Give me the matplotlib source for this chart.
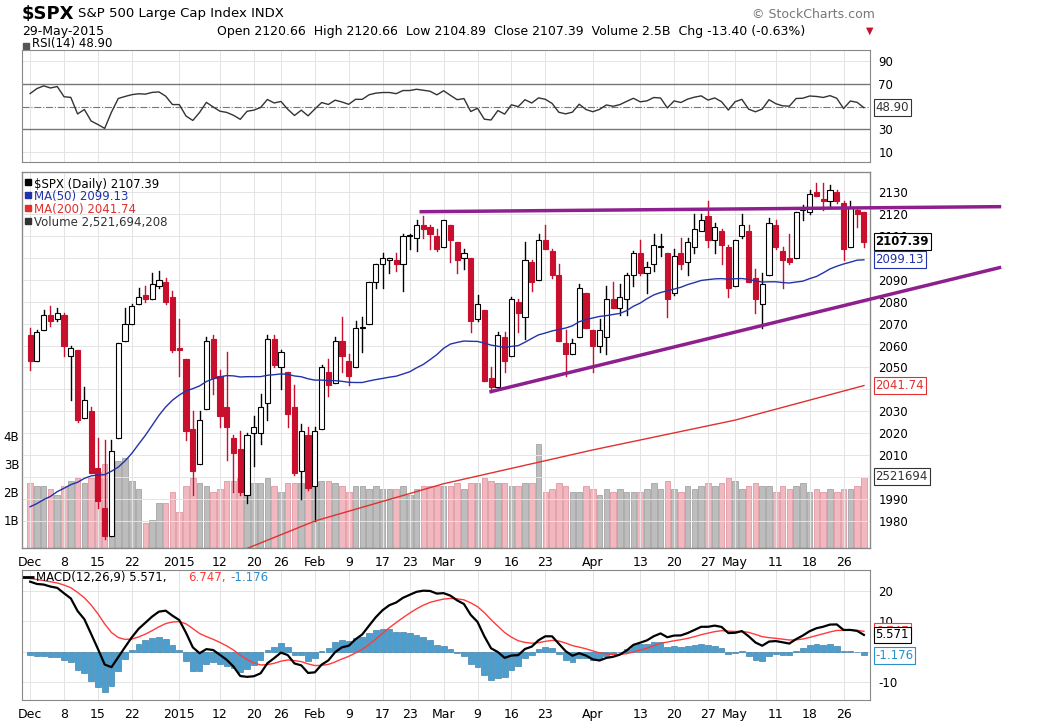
import numpy as np
import pandas as pd
import matplotlib.pyplot as plt
from matplotlib.patches import Rectangle

# ---- data ----
dec_days = [1,2,3,4,5,8,9,10,11,12,15,16,17,18,19,22,23,24,26,29,30,31]
jan_days = [2,5,6,7,8,9,12,13,14,15,16,20,21,22,23,26,27,28,29,30]
feb_days = [2,3,4,5,6,9,10,11,12,13,17,18,19,20,23,24,25,26,27]
mar_days = [2,3,4,5,6,9,10,11,12,13,16,17,18,19,20,23,24,25,26,27,30,31]
apr_days = [1,2,6,7,8,9,10,13,14,15,16,17,20,21,22,23,24,27,28,29,30]
may_days = [1,4,5,6,7,8,11,12,13,14,15,18,19,20,21,22,26,27,28,29]

opens = [2065,2053,2067,2074,2072,2074,2055,2058,2027,2030,2004,1986,1973,2018,2062,2070,2079,2083,2081,2087,2089,2082,
         2059,2054,2022,2006,2031,2063,2046,2032,2018,2013,1992,2020,2020,2034,2063,2050,2048,2032,2003,2019,
         1996,2022,2048,2043,2062,2053,2050,2068,2070,2089,2097,2099,2099,2097,2110,2109,2115,2114,2110,
         2105,2115,2107,2100,2100,2072,2076,2045,2041,2064,2055,2080,2073,2098,2090,2108,2103,2092,2061,2056,2064,2084,
         2067,2060,2064,2081,2077,2081,2092,2102,2093,2097,2105,2102,2084,2102,2098,2105,2112,2119,2108,2112,2105,
         2087,2110,2112,2091,2079,2092,2115,2103,2100,2100,2122,2121,2130,2127,2126,2130,2125,2105,2122,2120.66]
highs = [2068,2067,2076,2078,2077,2075,2060,2058,2041,2032,2018,2017,2017,2061,2077,2079,2086,2087,2093,2094,2091,2085,
         2072,2054,2030,2030,2064,2065,2049,2057,2019,2021,2020,2028,2038,2065,2065,2058,2048,2042,2024,2023,
         2023,2051,2054,2064,2073,2056,2071,2073,2089,2097,2102,2100,2102,2111,2111,2117,2119,2115,2113,
         2117,2115,2107,2104,2100,2083,2076,2050,2066,2066,2082,2081,2107,2099,2111,2115,2104,2097,2067,2063,2088,2084,
         2067,2072,2087,2089,2088,2093,2103,2108,2098,2111,2111,2102,2104,2109,2109,2120,2120,2126,2116,2113,2106,
         2108,2120,2115,2095,2093,2118,2117,2105,2111,2121,2124,2131,2134,2134,2133,2131,2126,2126,2123,2120.66]
lows = [2049,2053,2067,2069,2071,2055,2035,2025,2027,2002,1986,1972,1973,2018,2062,2070,2079,2080,2081,2086,2079,2057,
        2046,2017,1992,2006,2031,2038,2023,2008,1993,1992,1988,2005,2015,2026,2050,2040,2023,2001,1990,1994,
        1980,2022,2037,2043,2048,2042,2050,2057,2070,2086,2086,2093,2094,2085,2104,2103,2109,2104,2103,
        2105,2098,2093,2095,2066,2071,2044,2039,2041,2048,2055,2066,2063,2085,2090,2104,2091,2062,2046,2056,2064,2068,
        2048,2057,2056,2077,2074,2074,2087,2092,2084,2094,2101,2073,2083,2095,2092,2102,2113,2105,2102,2097,2082,
        2087,2109,2089,2075,2068,2092,2104,2086,2097,2100,2117,2120,2128,2122,2123,2125,2099,2105,2114,2104.89]
closes = [2053,2066,2074,2071,2075,2060,2059,2026,2035,2002,1989,1973,2012,2061,2070,2078,2082,2081,2088,2090,2080,2058,
          2058,2021,2003,2026,2062,2045,2028,2023,2011,1993,2019,2023,2032,2063,2051,2057,2029,2002,2021,1995,
          2021,2050,2042,2062,2055,2046,2068,2068,2089,2097,2100,2100,2097,2110,2110,2115,2113,2111,2104,
          2117,2108,2099,2102,2071,2079,2044,2041,2065,2053,2081,2075,2099,2089,2108,2104,2092,2062,2056,2061,2086,2068,
          2060,2067,2081,2077,2082,2092,2102,2093,2096,2106,2105,2081,2101,2097,2107,2113,2117,2108,2114,2106,2086,
          2108,2115,2089,2081,2088,2116,2105,2099,2098,2121,2122,2129,2128,2126,2131,2126,2104,2123,2120,2107.39]
# volume in billions
volumes = [2.3,2.2,2.2,2.1,1.9,2.2,2.4,2.5,2.3,2.5,2.7,3.0,2.9,3.1,3.2,2.4,2.1,0.9,1.0,1.6,1.6,2.0,
           1.3,2.2,2.5,2.3,2.2,2.0,2.1,2.4,2.4,2.5,2.7,2.3,2.3,2.5,2.2,2.0,2.3,2.3,2.3,2.6,
           2.4,2.4,2.4,2.3,2.2,2.0,2.2,2.2,2.1,2.2,2.1,2.1,2.1,2.2,1.9,2.1,2.2,2.2,2.2,
           2.2,2.2,2.3,2.1,2.3,2.3,2.5,2.4,2.3,2.3,2.2,2.2,2.3,2.3,3.7,2.0,2.1,2.3,2.2,2.0,2.0,2.2,
           2.1,1.9,2.1,2.0,2.1,2.0,2.0,2.0,2.1,2.3,2.1,2.4,2.1,2.0,2.2,2.1,2.2,2.3,2.2,2.3,2.5,
           2.4,2.1,2.2,2.3,2.2,2.2,2.0,2.2,2.1,2.2,2.3,2.0,2.1,2.0,2.1,2.0,2.1,2.1,2.2,2.52]
# earlier closes (Sep-Nov 2014) for indicator warm-up
prior_closes = [2002,2000,1997,2008,2007,2001,1988,1997,1985,1987,1985,1984,2002,2001,2011,1994,1983,1998,1966,1983,1977,1972,
                1946,1946,1968,1964,1935,1968,1928,1906,1874,1878,1862,1862,1887,1904,1941,1927,1951,1964,1961,1985,1982,1994,2018,
                2018,2012,2023,2031,2032,2038,2039,2039,2039,2039,2041,2052,2049,2053,2064,2070,2068,2073,2068]
ma200_dates = ['2015-01-02','2015-02-02','2015-03-02','2015-04-01','2015-05-01','2015-05-29']
ma200_vals = [1955,1980,1997,2012.4,2026,2041.74]

tick_dates = ['2014-12-01','2014-12-08','2014-12-15','2014-12-22','2015-01-02','2015-01-12','2015-01-20','2015-01-26',
              '2015-02-02','2015-02-09','2015-02-17','2015-02-23','2015-03-02','2015-03-09','2015-03-16','2015-03-23',
              '2015-04-01','2015-04-13','2015-04-20','2015-04-27','2015-05-01','2015-05-11','2015-05-18','2015-05-26']
tick_labels = ['Dec','8','15','22','2015','12','20','26','Feb','9','17','23','Mar','9','16','23',
               'Apr','13','20','27','May','11','18','26']

# ---- derived ----
dates = ([pd.Timestamp(2014,12,d) for d in dec_days] + [pd.Timestamp(2015,1,d) for d in jan_days] +
         [pd.Timestamp(2015,2,d) for d in feb_days] + [pd.Timestamp(2015,3,d) for d in mar_days] +
         [pd.Timestamp(2015,4,d) for d in apr_days] + [pd.Timestamp(2015,5,d) for d in may_days])
pos = {d: i for i, d in enumerate(dates)}
n = len(dates)
x = np.arange(n)
np_ = len(prior_closes)
allc = pd.Series(prior_closes + closes)
ma50 = allc.rolling(50).mean().values[np_:]
delta = allc.diff()
up = delta.clip(lower=0).ewm(alpha=1/14, adjust=False).mean()
dn = (-delta.clip(upper=0)).ewm(alpha=1/14, adjust=False).mean()
rsi = (100 - 100 / (1 + up / dn)).values[np_:]
macd_s = allc.ewm(span=12, adjust=False).mean() - allc.ewm(span=26, adjust=False).mean()
sig_s = macd_s.ewm(span=9, adjust=False).mean()
macd = macd_s.values[np_:]
sig = sig_s.values[np_:]
hist = macd - sig
ma200_x = [pos[pd.Timestamp(d)] for d in ma200_dates]
tick_x = [pos[pd.Timestamp(d)] for d in tick_dates]

W, H = 1038, 725
fig = plt.figure(figsize=(W/100, H/100), dpi=100)
plt.rcParams['font.family'] = 'DejaVu Sans'

def box(top, bot, left=22, right=870):
    return fig.add_axes([left/W, 1-bot/H, (right-left)/W, (bot-top)/H])

xl = (-1.2, 123.9)
ax_r = box(50, 162)
ax_p = box(172, 548)
ax_m = box(570, 700)

def rbox(ax, y, txt, col, bold=False):
    ax.annotate(txt, xy=(1.0, y), xycoords=('axes fraction', 'data'), xytext=(4, 0),
                textcoords='offset points', va='center', ha='left', fontsize=8.5, color=col,
                fontweight='bold' if bold else 'normal',
                bbox=dict(boxstyle='square,pad=0.15', fc='white', ec=col, lw=0.8), annotation_clip=False)

for ax in (ax_r, ax_p, ax_m):
    ax.set_xlim(*xl)
    ax.tick_params(axis='x', length=0)
    for t in tick_x:
        ax.axvline(t, color='#e4e4e4', lw=0.7, zorder=0)
    for s in ax.spines.values():
        s.set_color('#888888'); s.set_linewidth(0.8)

# volume on price panel
ax_v = ax_p.twinx()
ax_v.set_xlim(*xl)
ax_v.set_ylim(0, 13.4)
vcol = ['#f2b8c0' if c < o else '#bdbdbd' for o, c in zip(opens, closes)]
ecol = ['#d98b96' if c < o else '#999999' for o, c in zip(opens, closes)]
ax_v.bar(x, volumes, width=0.82, color=vcol, edgecolor=ecol, lw=0.5, zorder=1)
ax_v.yaxis.tick_left()
ax_v.set_yticks([1, 2, 3, 4]); ax_v.set_yticklabels(['1B', '2B', '3B', '4B'])
ax_v.tick_params(axis='y', length=0, labelsize=8.5, pad=2)
ax_v.set_xticks([])
ax_p.set_zorder(ax_v.get_zorder() + 1)
ax_p.patch.set_visible(False)

for ax in (ax_r, ax_p, ax_m):
    ax.yaxis.tick_right()
    ax.yaxis.set_label_position('right')
    ax.tick_params(axis='y', length=0, labelsize=8.5, pad=6)

# RSI
ax_r.set_ylim(1.2, 99.7)
ax_r.set_yticks([10, 30, 50, 70, 90]); ax_r.set_yticklabels(['10', '30', '', '70', '90'])
ax_r.set_xticks([])
for v in (10, 90):
    ax_r.axhline(v, color='#e4e4e4', lw=0.7, zorder=0)
ax_r.axhline(70, color='#777777', lw=1)
ax_r.axhline(30, color='#777777', lw=1)
ax_r.axhline(50, color='#777777', lw=0.8, ls='-.')
ax_r.plot(x, rsi, color='#333333', lw=1)
ax_r.text(0.012, 1.0, 'RSI(14) 48.90', transform=ax_r.transAxes, va='bottom', fontsize=8.5)
ax_r.plot([0.005], [1.04], marker='s', ms=4, color='#555555', transform=ax_r.transAxes, clip_on=False)
rbox(ax_r, rsi[-1], '48.90', '#333333')

ax_p.set_ylim(1967.7, 2139.1)
ax_p.set_yticks(np.arange(1980, 2131, 10))
for v in np.arange(1980, 2131, 10):
    ax_p.axhline(v, color='#e4e4e4', lw=0.7, zorder=0)
ax_p.set_xticks(tick_x); ax_p.set_xticklabels(tick_labels, fontsize=9)
ax_p.tick_params(axis='x', pad=6)
for i in range(n):
    o, h, l, c = opens[i], highs[i], lows[i], closes[i]
    down = c < o
    col = '#c8102e' if down else 'black'
    ax_p.plot([i, i], [l, h], color=col, lw=1, zorder=2)
    ax_p.add_patch(Rectangle((i - 0.38, min(o, c)), 0.76, max(abs(c - o), 0.3),
                             fc=col if down else 'white', ec=col, lw=0.8, zorder=3))
ax_p.plot(x, ma50, color='#2233aa', lw=1, zorder=4)
ax_p.plot(ma200_x, ma200_vals, color='#e03030', lw=1, zorder=4)
# trendlines
ax_p.plot([57.7, 143], [2121, 2123.3], color='#8e1f8e', lw=2.5, clip_on=False, zorder=5)
ax_p.plot([68, 143], [2039, 2095.5], color='#8e1f8e', lw=2.5, clip_on=False, zorder=5)

leg = [('$SPX (Daily) 2107.39', 'black'), ('MA(50) 2099.13', '#2233aa'),
       ('MA(200) 2041.74', '#e03030'), ('Volume 2,521,694,208', '#333333')]
for k, (t, c) in enumerate(leg):
    ax_p.text(0.014, 0.985 - k * 0.034, t, transform=ax_p.transAxes, va='top', fontsize=8.5, color=c)
    ax_p.plot([0.007], [0.973 - k * 0.034], marker='s', ms=4, color=c, transform=ax_p.transAxes)
rbox(ax_p, 2107.39, '2107.39', 'black', bold=True)
rbox(ax_p, 2099.13, '2099.13', '#2233aa')
rbox(ax_p, 2041.74, '2041.74', '#e03030')
rbox(ax_p, 2000.4, '2521694', '#333333')

# MACD
ax_m.set_ylim(-15.9, 26.9)
ax_m.set_yticks([-10, 10, 20]); ax_m.set_yticklabels(['-10', '10', '20'])
for v in (-10, 0, 10, 20):
    ax_m.axhline(v, color='#e4e4e4', lw=0.7, zorder=0)
ax_m.bar(x, hist, width=0.85, color='#4a9fd0', edgecolor='#2a6f9a', lw=0.4)
ax_m.plot(x, sig, color='#ff3b3b', lw=1)
ax_m.plot(x, macd, color='black', lw=1.6)
ax_m.set_xticks(tick_x); ax_m.set_xticklabels(tick_labels, fontsize=9)
ax_m.tick_params(axis='x', pad=6)
ax_m.plot([0.007], [0.945], marker='_', ms=8, mew=2, color='black', transform=ax_m.transAxes)
ax_m.text(0.016, 0.99, 'MACD(12,26,9) 5.571,', transform=ax_m.transAxes, va='top', fontsize=8.5)
ax_m.text(0.196, 0.99, '6.747,', transform=ax_m.transAxes, va='top', fontsize=8.5, color='#ff3b3b')
ax_m.text(0.246, 0.99, '-1.176', transform=ax_m.transAxes, va='top', fontsize=8.5, color='#2a8fcf')
rbox(ax_m, 6.747, '6.747', '#ff3b3b')
rbox(ax_m, 5.571, '5.571', 'black')
rbox(ax_m, -1.176, '-1.176', '#2a8fcf')

# header
fig.text(22/W, 1-14/H, '$SPX', fontsize=13, fontweight='bold', va='center')
fig.text(78/W, 1-14/H, 'S&P 500 Large Cap Index INDX', fontsize=9.5, va='center')
fig.text(875/W, 1-14/H, '© StockCharts.com', fontsize=9, color='#777777', va='center', ha='right')
fig.text(22/W, 1-31/H, '29-May-2015', fontsize=9, va='center')
fig.text(217/W, 1-31/H, 'Open 2120.66  High 2120.66  Low 2104.89  Close 2107.39  Volume 2.5B  Chg -13.40 (-0.63%)',
         fontsize=9, va='center')
fig.text(866/W, 1-31/H, '▼', fontsize=7, color='#c8102e', va='center')

fig.savefig('out.png', dpi=100)
